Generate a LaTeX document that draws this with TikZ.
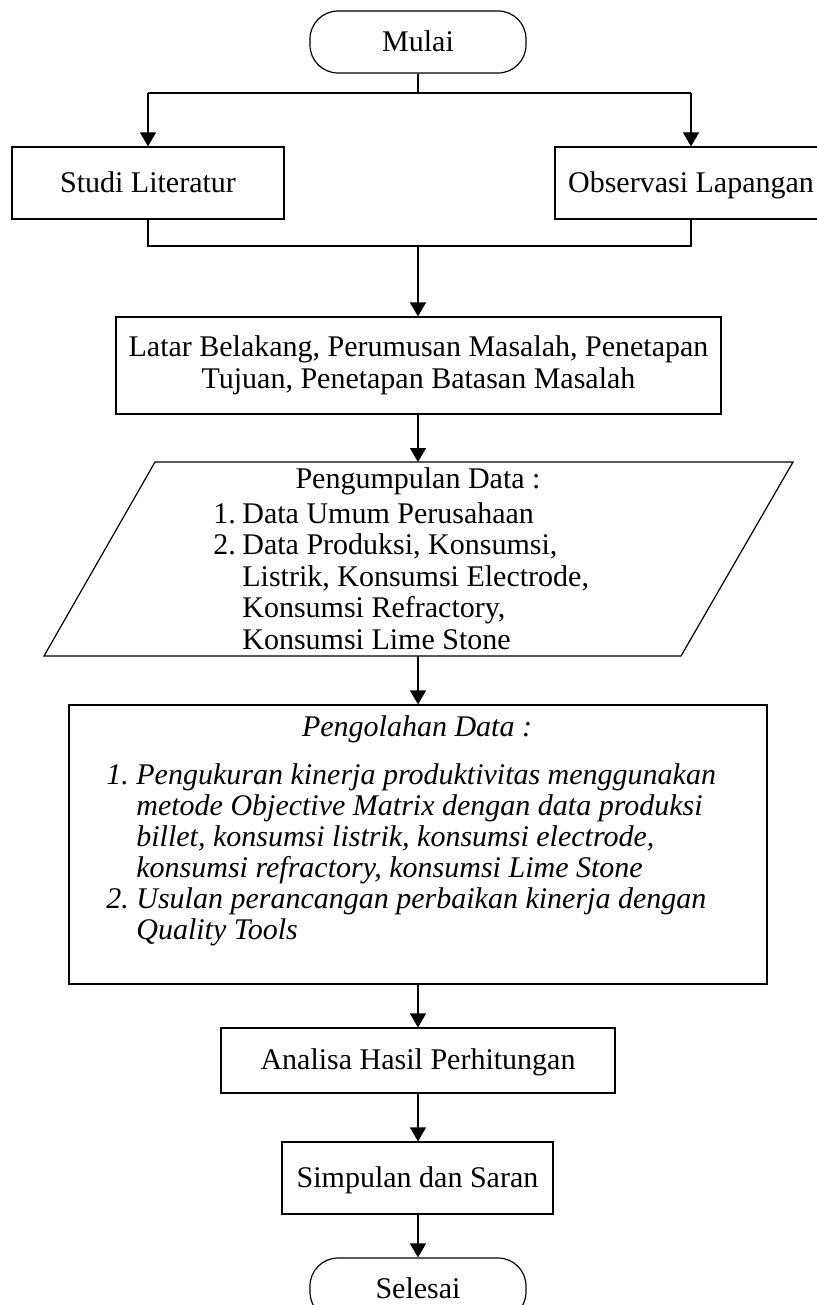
\documentclass[tikz,border=0pt]{standalone}
\usepackage{fontspec}
\setmainfont{Liberation Serif}
\usetikzlibrary{arrows.meta}
\begin{document}
\begin{tikzpicture}[x=0.5pt,y=-0.5pt,
  box/.style={draw, line width=0.6pt, inner sep=0pt, align=center, font=\fontsize{15}{16}\selectfont},
  oneline/.style={text height=11.5pt, text depth=2.2pt},
  term/.style={box, oneline, rounded corners=14pt, minimum width=108pt, minimum height=31pt},
  arr/.style={-{Triangle[length=7pt,width=8pt]}, line width=0.6pt},
  ln/.style={line width=0.6pt},
  txt/.style={inner sep=0pt, font=\fontsize{15}{15.7}\selectfont}]
\useasboundingbox (0,0) rectangle (817,1305);
\clip (0,0) rectangle (817,1305);
% nodes
\node[term] (mulai) at (418,42) {Mulai};
\node[box, oneline, minimum width=136pt, minimum height=36pt] (studi) at (148,183) {Studi Literatur};
\node[box, oneline, minimum width=136pt, minimum height=36pt] (obs) at (691,183) {Observasi Lapangan};
\node[box, minimum width=302.5pt, minimum height=48.5pt] (latar) at (418.5,365.5)
  {Latar Belakang, Perumusan Masalah, Penetapan\\Tujuan, Penetapan Batasan Masalah};
% parallelogram
\coordinate (ptl) at (155,462);
\coordinate (ptr) at (793,462);
\coordinate (pbr) at (681,656);
\coordinate (pbl) at (44,656);
\coordinate (pdtop) at (418,462);
\coordinate (pdbot) at (418,656);
\draw[ln] (ptl) -- (ptr) -- (pbr) -- (pbl) -- cycle;
\node[txt] (pdtitle) at (418,481) {Pengumpulan Data :};
\node[txt, align=left, anchor=west] (pdlist) at (213,576)
  {\makebox[14.5pt][l]{1.}Data Umum Perusahaan\\
   \makebox[14.5pt][l]{2.}Data Produksi, Konsumsi,\\
   \hspace*{14.5pt}Listrik, Konsumsi Electrode,\\
   \hspace*{14.5pt}Konsumsi Refractory,\\
   \hspace*{14.5pt}Konsumsi Lime Stone};
% processing box
\node[box, minimum width=349pt, minimum height=139.5pt] (olah) at (418,844.5) {};
\node[txt, font=\fontsize{15}{15.5}\selectfont\itshape] (olahtitle) at (417,729) {Pengolahan Data :};
\node[txt, align=left, anchor=west, font=\fontsize{15}{15.5}\selectfont\itshape] (olahlist) at (106,855)
  {\makebox[15pt][l]{1.}Pengukuran kinerja produktivitas menggunakan\\
   \hspace*{15pt}metode Objective Matrix dengan data produksi\\
   \hspace*{15pt}billet, konsumsi listrik, konsumsi electrode,\\
   \hspace*{15pt}konsumsi refractory, konsumsi Lime Stone\\
   \makebox[15pt][l]{2.}Usulan perancangan perbaikan kinerja dengan\\
   \hspace*{15pt}Quality Tools};
\node[box, oneline, minimum width=197pt, minimum height=32.5pt] (analisa) at (418,1060.5) {Analisa Hasil Perhitungan};
\node[box, oneline, minimum width=135.5pt, minimum height=36pt] (simpulan) at (417.5,1178) {Simpulan dan Saran};
\node[term] (selesai) at (418,1289) {Selesai};
% connectors
\coordinate (b1) at (148,93);
\coordinate (b2) at (691,93);
\coordinate (bc) at (418,93);
\draw[ln] (mulai.south) -- (bc);
\draw[ln] (b1) -- (b2);
\draw[arr] (b1) -- (studi.north);
\draw[arr] (b2) -- (obs.north);
\coordinate (m1) at (148,246);
\coordinate (m2) at (691,246);
\coordinate (mc) at (418,246);
\draw[ln] (studi.south) -- (m1) -- (m2) -- (obs.south);
\draw[arr] (mc) -- (latar.north -| mc);
\draw[arr] (latar.south -| pdtop) -- (pdtop);
\draw[arr] (pdbot) -- (olah.north -| pdbot);
\draw[arr] (olah.south) -- (analisa.north);
\draw[arr] (analisa.south) -- (analisa.south |- simpulan.north);
\draw[arr] (simpulan.south -| selesai.north) -- (selesai.north);
\end{tikzpicture}
\end{document}
